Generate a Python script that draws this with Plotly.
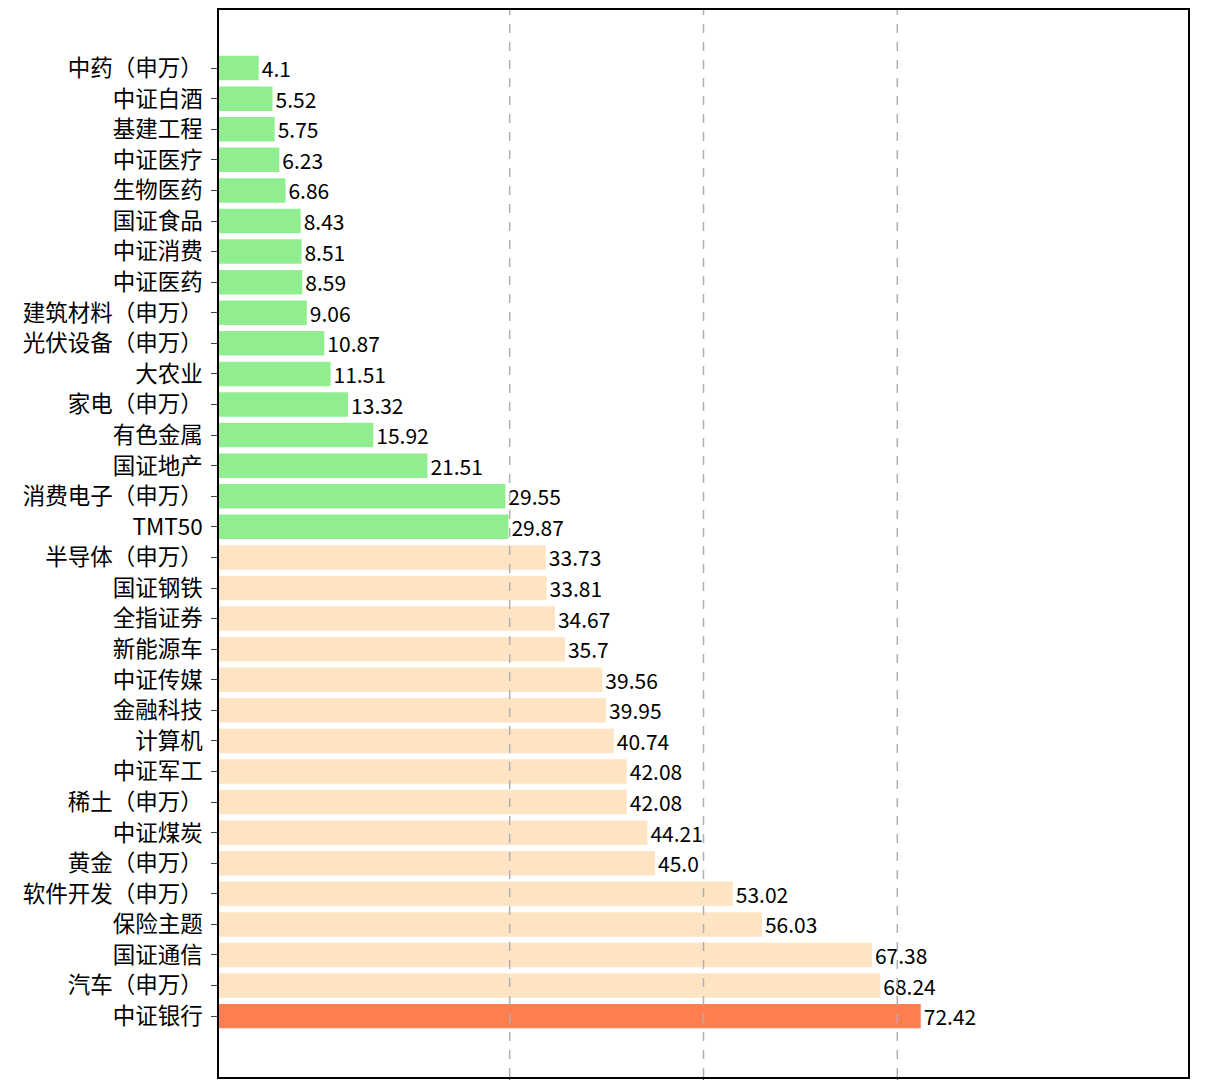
import plotly.graph_objects as go

# 指数名称和数值（从上到下）
names = ["中药（申万）", "中证白酒", "基建工程", "中证医疗", "生物医药", "国证食品",
         "中证消费", "中证医药", "建筑材料（申万）", "光伏设备（申万）", "大农业",
         "家电（申万）", "有色金属", "国证地产", "消费电子（申万）", "TMT50",
         "半导体（申万）", "国证钢铁", "全指证券", "新能源车", "中证传媒", "金融科技",
         "计算机", "中证军工", "稀土（申万）", "中证煤炭", "黄金（申万）",
         "软件开发（申万）", "保险主题", "国证通信", "汽车（申万）", "中证银行"]
values = [4.1, 5.52, 5.75, 6.23, 6.86, 8.43, 8.51, 8.59, 9.06, 10.87, 11.51,
          13.32, 15.92, 21.51, 29.55, 29.87, 33.73, 33.81, 34.67, 35.7, 39.56,
          39.95, 40.74, 42.08, 42.08, 44.21, 45.0, 53.02, 56.03, 67.38, 68.24, 72.42]
labels = ["4.1", "5.52", "5.75", "6.23", "6.86", "8.43", "8.51", "8.59", "9.06",
          "10.87", "11.51", "13.32", "15.92", "21.51", "29.55", "29.87", "33.73",
          "33.81", "34.67", "35.7", "39.56", "39.95", "40.74", "42.08", "42.08",
          "44.21", "45.0", "53.02", "56.03", "67.38", "68.24", "72.42"]
grid_ticks = [30, 50, 70]

font = "Noto Sans CJK SC, sans-serif"

colors = []
for v in values:
    if v == max(values):
        colors.append("#FF7F50")
    elif v < 30:
        colors.append("#90EE90")
    else:
        colors.append("#FFE4C4")

fig = go.Figure(go.Bar(
    x=values, y=names, orientation="h",
    marker=dict(color=colors, line=dict(width=0)),
    width=0.8,
    text=labels, textposition="outside", constraintext="none",
    textfont=dict(family=font, size=21, color="black"),
    cliponaxis=False,
))

# 虚线网格画在柱子上面
for t in grid_ticks:
    fig.add_shape(type="line", xref="x", yref="paper", x0=t, x1=t, y0=0, y1=1,
                  line=dict(color="#b0b0b0", width=1.5, dash="dash"), layer="above")

fig.update_layout(
    width=1205, height=1080,
    margin=dict(l=211, r=25, t=2, b=11),
    plot_bgcolor="white", paper_bgcolor="white",
    showlegend=False,
    font=dict(family=font, size=20, color="black"),
)
fig.update_xaxes(
    range=[0, 100], tickvals=grid_ticks, ticks="outside", ticklen=6,
    showticklabels=False, automargin=False, showgrid=False,
    showline=True, linecolor="black", linewidth=1.5, mirror=True,
    zeroline=False,
)
fig.update_yaxes(
    categoryorder="array", categoryarray=names, automargin=False,
    range=[32.99, -1.9], ticks="outside", ticklen=6, ticklabelstandoff=4,
    showline=True, linecolor="black", linewidth=1.5, mirror=True,
    showgrid=False, tickfont=dict(size=22.5),
)

fig.write_html("out.html")
